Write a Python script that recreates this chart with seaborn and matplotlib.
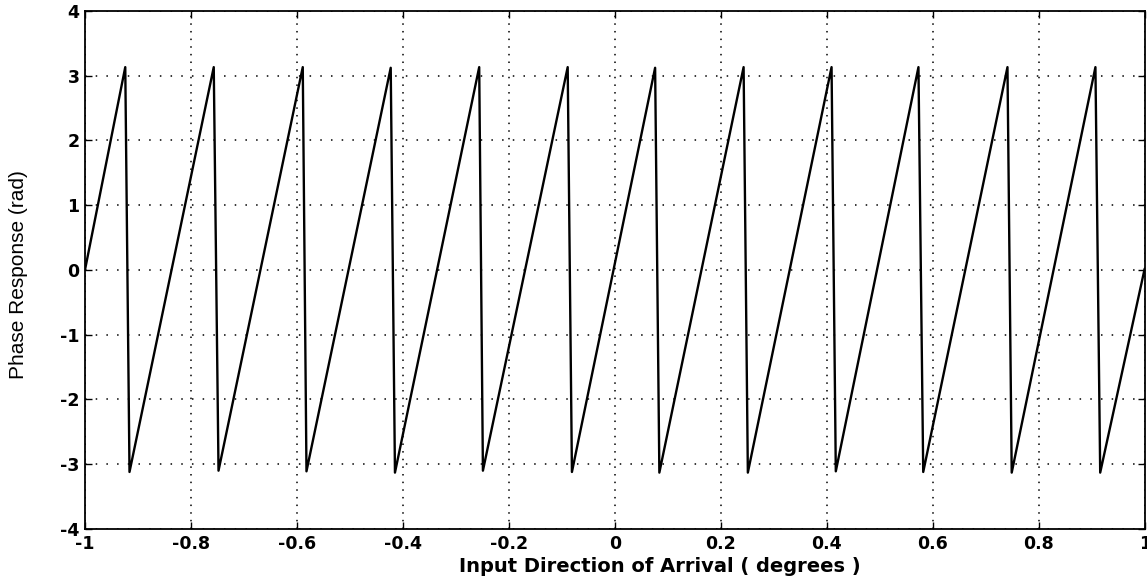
import matplotlib
matplotlib.use("Agg")
import matplotlib.pyplot as plt
import seaborn as sns
import pandas as pd

# Vertices of the phase-response sawtooth
peak_x = [-0.924, -0.757, -0.589, -0.423, -0.256, -0.089, 0.076, 0.243, 0.409, 0.573, 0.741, 0.907]
peak_y = [3.13, 3.13, 3.13, 3.12, 3.13, 3.13, 3.12, 3.13, 3.13, 3.13, 3.13, 3.13]
trough_x = [-0.916, -0.748, -0.582, -0.415, -0.249, -0.081, 0.084, 0.251, 0.417, 0.582, 0.749, 0.916]
trough_y = [-3.12, -3.10, -3.11, -3.13, -3.10, -3.12, -3.13, -3.13, -3.11, -3.12, -3.13, -3.13]
start_x, start_y = -1.0, 0.0
end_x, end_y = 1.0, 0.02

xticks = [-1, -0.8, -0.6, -0.4, -0.2, 0, 0.2, 0.4, 0.6, 0.8, 1]
xticklabels = ["-1", "-0.8", "-0.6", "-0.4", "-0.2", "0", "0.2", "0.4", "0.6", "0.8", "1"]
yticks = [-4, -3, -2, -1, 0, 1, 2, 3, 4]
yticklabels = ["-4", "-3", "-2", "-1", "0", "1", "2", "3", "4"]
xlabel = "Input Direction of Arrival ( degrees )"
ylabel = "Phase Response (rad)"

xs = [start_x]
ys = [start_y]
for px, py, tx, ty in zip(peak_x, peak_y, trough_x, trough_y):
    xs += [px, tx]
    ys += [py, ty]
xs.append(end_x)
ys.append(end_y)
df = pd.DataFrame({"x": xs, "y": ys})

sns.set_theme(style="white")
plt.rcParams["font.family"] = ["DejaVu Sans"]

fig = plt.figure(figsize=(11.47, 5.79), dpi=100)
ax = fig.add_axes([0.0741, 0.0864, 0.9239, 0.895])
sns.lineplot(data=df, x="x", y="y", sort=False, color="black", linewidth=1.7, ax=ax, estimator=None)

ax.set_xlim(-1, 1)
ax.set_ylim(-4, 4)
ax.set_xticks(xticks)
ax.set_xticklabels(xticklabels, fontsize=12.5, fontweight="bold")
ax.set_yticks(yticks)
ax.set_yticklabels(yticklabels, fontsize=12.5, fontweight="bold")
ax.tick_params(direction="in", length=5, width=1, color="black", top=True, right=True,
               bottom=True, left=True, pad=3, labelcolor="black")
ax.tick_params(axis="x", pad=4)
ax.tick_params(axis="y", pad=4)
ax.xaxis.grid(True, linestyle=(0, (1, 4)), color="black", linewidth=1.1)
ax.yaxis.grid(True, linestyle=(0, (1, 6)), color="black", linewidth=1.1)
for s in ax.spines.values():
    s.set_color("black")
    s.set_linewidth(1.3)
ax.set_xlabel(xlabel, fontsize=14, fontweight="bold", color="black")
ax.xaxis.set_label_coords(0.5425, -0.055)
ax.set_ylabel(ylabel, fontsize=15, color="black",
              family=["Liberation Sans Narrow", "Liberation Sans", "DejaVu Sans"])
ax.yaxis.set_label_coords(-0.054, 0.49)

fig.savefig("out.png", dpi=100, facecolor="white")
